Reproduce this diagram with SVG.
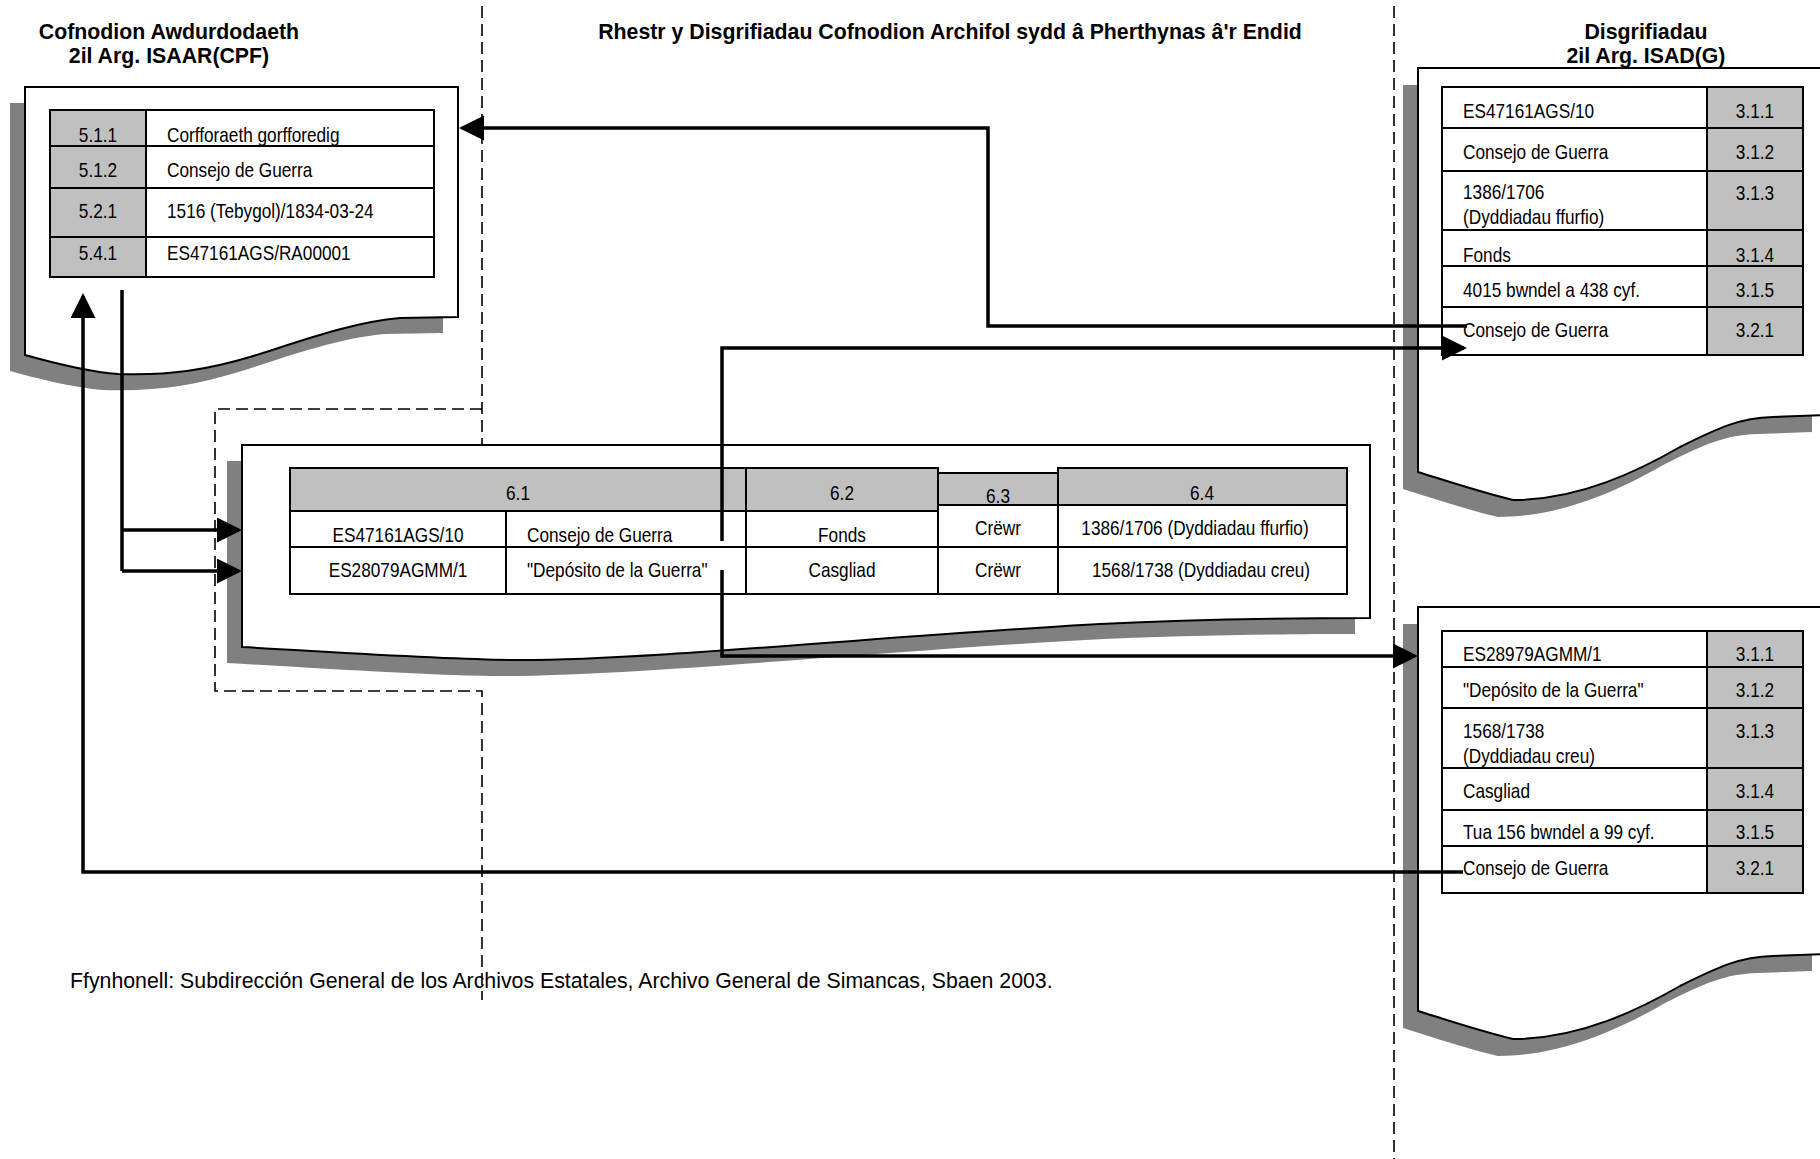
<svg xmlns="http://www.w3.org/2000/svg" xmlns:xlink="http://www.w3.org/1999/xlink" width="1820" height="1159" viewBox="0 0 1820 1159">
<style>
.ttl{font-family:"Liberation Sans",Arial,sans-serif;font-weight:bold;font-size:21.3px;fill:#000;text-anchor:middle}
.t{font-family:"Liberation Sans",Arial,sans-serif;font-size:21px;fill:#000}
.c{text-anchor:middle}
.foot{font-family:"Liberation Sans",Arial,sans-serif;font-size:21.3px;fill:#000}
.doc{fill:#fff;stroke:#000;stroke-width:2}
.shadow{fill:#808080;stroke:none}
.tbl{fill:#fff;stroke:#000;stroke-width:2}
.g{fill:#c0c0c0;stroke:#000;stroke-width:2}
.ln{stroke:#000;stroke-width:2;fill:none}
.dash{stroke:#000;stroke-width:1.6;fill:none;stroke-dasharray:12 6}
.con{stroke:#000;stroke-width:3.5;fill:none}
</style>
<defs>
<marker id="ah" markerUnits="userSpaceOnUse" markerWidth="26" markerHeight="26" refX="22" refY="12.5" orient="auto">
<path d="M0,0 L25,12.5 L0,25 z" fill="#000"/>
</marker>
<path id="docL" d="M25,87 H458 V317 L400,318 C350,322 290,345 250,357 C210,369 170,376 118,374 C90,372 50,362 25,355 Z"/>
<path id="docM" d="M242,445 H1370 V618 C1300,618 1200,619 1100,624 C900,635 650,660 520,660 C450,660 350,653 242,647 Z"/>
<path id="docR" d="M1418,68 H1827 V415 L1773,417 C1740,418 1720,427 1680,447 C1640,470 1580,500 1513,500 C1480,492 1450,482 1418,472 Z"/>
</defs>

<g id="guides">
<path class="dash" d="M482,6 V445"/>
<path class="dash" d="M482,409 H215 V691 H482 V1000"/>
<path class="dash" d="M1394,6 V1159"/>
</g>

<g id="titles">
<text class="ttl" x="169" y="39">Cofnodion Awdurdodaeth</text>
<text class="ttl" x="169" y="63">2il Arg. ISAAR(CPF)</text>
<text class="ttl" x="950" y="39">Rhestr y Disgrifiadau Cofnodion Archifol sydd â Pherthynas â'r Endid</text>
<text class="ttl" x="1646" y="39">Disgrifiadau</text>
<text class="ttl" x="1646" y="63">2il Arg. ISAD(G)</text>
</g>

<g id="authority-record">
<use xlink:href="#docL" class="shadow" transform="translate(-15,16)"/>
<use xlink:href="#docL" class="doc"/>
<rect class="tbl" x="50" y="110" width="384" height="167"/>
<rect class="g" x="50" y="110" width="96" height="167"/>
<path class="ln" d="M50,146 H434 M50,188 H434 M50,237 H434"/>
<text class="t c" transform="translate(98,142) scale(.82,1)">5.1.1</text>
<text class="t" transform="translate(167,142) scale(.82,1)">Corfforaeth gorfforedig</text>
<text class="t c" transform="translate(98,177) scale(.82,1)">5.1.2</text>
<text class="t" transform="translate(167,177) scale(.82,1)">Consejo de Guerra</text>
<text class="t c" transform="translate(98,218) scale(.82,1)">5.2.1</text>
<text class="t" transform="translate(167,218) scale(.82,1)">1516 (Tebygol)/1834-03-24</text>
<text class="t c" transform="translate(98,260) scale(.82,1)">5.4.1</text>
<text class="t" transform="translate(167,260) scale(.82,1)">ES47161AGS/RA00001</text>
</g>

<g id="records-list">
<use xlink:href="#docM" class="shadow" transform="translate(-15,16)"/>
<use xlink:href="#docM" class="doc"/>
<rect class="g" x="290" y="468" width="456" height="43"/>
<rect class="g" x="746" y="468" width="192" height="43"/>
<rect class="g" x="938" y="473" width="120" height="32"/>
<rect class="g" x="1058" y="468" width="289" height="37"/>
<rect class="tbl" x="290" y="511" width="456" height="83"/>
<rect class="tbl" x="746" y="511" width="192" height="83"/>
<rect class="tbl" x="938" y="505" width="409" height="89"/>
<path class="ln" d="M506,511 V594 M1058,505 V594 M290,547 H1347"/>
<text class="t c" transform="translate(518,500) scale(.82,1)">6.1</text>
<text class="t c" transform="translate(842,500) scale(.82,1)">6.2</text>
<text class="t c" transform="translate(998,503) scale(.82,1)">6.3</text>
<text class="t c" transform="translate(1202,500) scale(.82,1)">6.4</text>
<text class="t c" transform="translate(398,542) scale(.82,1)">ES47161AGS/10</text>
<text class="t" transform="translate(527,542) scale(.82,1)">Consejo de Guerra</text>
<text class="t c" transform="translate(842,542) scale(.82,1)">Fonds</text>
<text class="t c" transform="translate(998,535) scale(.82,1)">Crëwr</text>
<text class="t c" transform="translate(1195,535) scale(.82,1)">1386/1706 (Dyddiadau ffurfio)</text>
<text class="t c" transform="translate(398,577) scale(.82,1)">ES28079AGMM/1</text>
<text class="t" transform="translate(527,577) scale(.82,1)">"Depósito de la Guerra"</text>
<text class="t c" transform="translate(842,577) scale(.82,1)">Casgliad</text>
<text class="t c" transform="translate(998,577) scale(.82,1)">Crëwr</text>
<text class="t c" transform="translate(1201,577) scale(.82,1)">1568/1738 (Dyddiadau creu)</text>
</g>

<g id="description-1">
<use xlink:href="#docR" class="shadow" transform="translate(-15,17)"/>
<use xlink:href="#docR" class="doc"/>
<rect class="tbl" x="1442" y="87" width="361" height="268"/>
<rect class="g" x="1707" y="87" width="96" height="268"/>
<path class="ln" d="M1442,128 H1803 M1442,171 H1803 M1442,230 H1803 M1442,266 H1803 M1442,307 H1803"/>
<text class="t" transform="translate(1463,118) scale(.82,1)">ES47161AGS/10</text>
<text class="t c" transform="translate(1755,118) scale(.82,1)">3.1.1</text>
<text class="t" transform="translate(1463,159) scale(.82,1)">Consejo de Guerra</text>
<text class="t c" transform="translate(1755,159) scale(.82,1)">3.1.2</text>
<text class="t" transform="translate(1463,199) scale(.82,1)">1386/1706</text>
<text class="t" transform="translate(1463,224) scale(.82,1)">(Dyddiadau ffurfio)</text>
<text class="t c" transform="translate(1755,200) scale(.82,1)">3.1.3</text>
<text class="t" transform="translate(1463,262) scale(.82,1)">Fonds</text>
<text class="t c" transform="translate(1755,262) scale(.82,1)">3.1.4</text>
<text class="t" transform="translate(1463,297) scale(.82,1)">4015 bwndel a 438 cyf.</text>
<text class="t c" transform="translate(1755,297) scale(.82,1)">3.1.5</text>
<text class="t" transform="translate(1463,337) scale(.82,1)">Consejo de Guerra</text>
<text class="t c" transform="translate(1755,337) scale(.82,1)">3.2.1</text>
</g>

<g id="description-2">
<use xlink:href="#docR" class="shadow" transform="translate(-15,556)"/>
<use xlink:href="#docR" class="doc" transform="translate(0,539)"/>
<rect class="tbl" x="1442" y="631" width="361" height="262"/>
<rect class="g" x="1707" y="631" width="96" height="262"/>
<path class="ln" d="M1442,667 H1803 M1442,708 H1803 M1442,768 H1803 M1442,810 H1803 M1442,846 H1803"/>
<text class="t" transform="translate(1463,661) scale(.82,1)">ES28979AGMM/1</text>
<text class="t c" transform="translate(1755,661) scale(.82,1)">3.1.1</text>
<text class="t" transform="translate(1463,697) scale(.82,1)">"Depósito de la Guerra"</text>
<text class="t c" transform="translate(1755,697) scale(.82,1)">3.1.2</text>
<text class="t" transform="translate(1463,738) scale(.82,1)">1568/1738</text>
<text class="t" transform="translate(1463,763) scale(.82,1)">(Dyddiadau creu)</text>
<text class="t c" transform="translate(1755,738) scale(.82,1)">3.1.3</text>
<text class="t" transform="translate(1463,798) scale(.82,1)">Casgliad</text>
<text class="t c" transform="translate(1755,798) scale(.82,1)">3.1.4</text>
<text class="t" transform="translate(1463,839) scale(.82,1)">Tua 156 bwndel a 99 cyf.</text>
<text class="t c" transform="translate(1755,839) scale(.82,1)">3.1.5</text>
<text class="t" transform="translate(1463,875) scale(.82,1)">Consejo de Guerra</text>
<text class="t c" transform="translate(1755,875) scale(.82,1)">3.2.1</text>
</g>

<g id="connectors">
<path class="con" d="M1467,326 H988 V128 H462" marker-end="url(#ah)"/>
<path class="con" d="M722,541 V348 H1464" marker-end="url(#ah)"/>
<path class="con" d="M722,570 V656 H1415" marker-end="url(#ah)"/>
<path class="con" d="M1463,872 H83 V296" marker-end="url(#ah)"/>
<path class="con" d="M122,290 V571"/>
<path class="con" d="M122,530 H239" marker-end="url(#ah)"/>
<path class="con" d="M122,571 H239" marker-end="url(#ah)"/>
</g>

<text class="foot" x="70" y="988">Ffynhonell: Subdirección General de los Archivos Estatales, Archivo General de Simancas, Sbaen 2003.</text>
</svg>
